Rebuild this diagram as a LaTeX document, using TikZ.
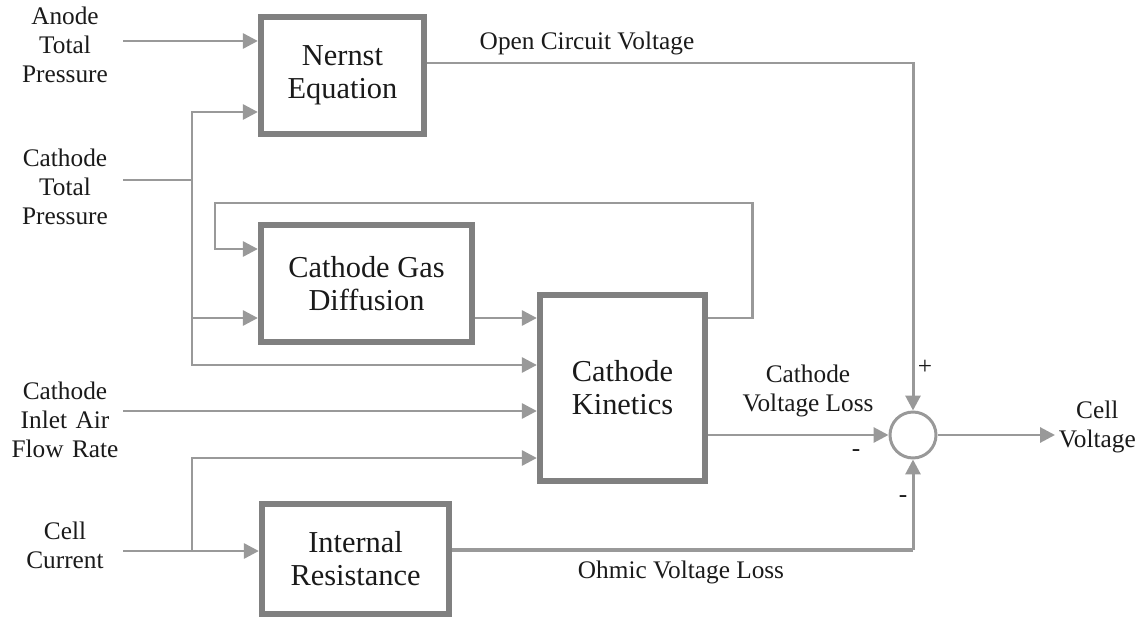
\documentclass[tikz,border=0pt]{standalone}
\usepackage{fontspec}
\setmainfont{Liberation Serif}
\usetikzlibrary{arrows.meta,calc,positioning}
\definecolor{BoxGray}{HTML}{808080}
\definecolor{WireGray}{HTML}{999999}
\definecolor{TextInk}{HTML}{1A1A1A}
\begin{document}
\begin{tikzpicture}[x=0.02cm,y=-0.02cm,every node/.style={text=TextInk},lbl/.style={font=\fontsize{14.4}{16.5}\selectfont,align=center,inner sep=0pt},inlbl/.style={lbl,text width=2.32cm},block/.style={draw=BoxGray,line width=3.6pt,fill=white,align=center,inner sep=0pt,font=\fontsize{17.3}{18.8}\selectfont},wire/.style={draw=WireGray,line width=1.7pt},flow/.style={wire,-{Triangle[length=8.5pt,width=8.5pt]}}]
\useasboundingbox (0,0) rectangle (1145,621);

\node[inlbl] (anode) at (65,45) {Anode\\Total\\Pressure};
\node[inlbl] (cathp) at (65,187) {Cathode\\Total\\Pressure};
\node[inlbl] (inlet) at (65,420) {Cathode\\Inlet Air\\Flow Rate};
\node[inlbl] (cur) at (65,545) {Cell\\Current};
\node[block,minimum width=3.26cm,minimum height=2.34cm] (nernst) at (342.5,75.5) {Nernst\\Equation};
\node[block,minimum width=4.22cm,minimum height=2.34cm] (diff) at (366.5,283.5) {Cathode Gas\\Diffusion};
\node[block,minimum width=3.3cm,minimum height=3.72cm] (kin) at (622.5,388) {Cathode\\Kinetics};
\node[block,minimum width=3.74cm,minimum height=2.2cm] (res) at (355.5,559) {Internal\\Resistance};
\node[circle,draw=WireGray,line width=1.7pt,minimum size=0.92cm,inner sep=0pt] (sum) at (913,435) {};
\node[lbl,anchor=west,inner sep=2pt] (volt) at (1055,427) {Cell\\Voltage};

\coordinate (split1) at (192,180); \coordinate (split2) at (192,551);
\coordinate (fbR) at (752,203); \coordinate (fbL) at (215,203);

\draw[flow] (anode.east |- 0,41) -- (nernst.west |- 0,41);
\draw[wire] (cathp.east |- split1) -- (split1);
\draw[flow] (split1) |- (nernst.west |- 0,112); \draw[flow] (split1) |- (diff.west |- 0,318); \draw[flow] (split1) |- (kin.west |- 0,365);
\draw[flow] (kin.east |- 0,318) -| (fbR) -- (fbL) |- (diff.west |- 0,249);
\draw[flow] (diff.east |- 0,318) -- (kin.west |- 0,318);
\draw[flow] (inlet.east |- 0,411) -- (kin.west |- 0,411);
\draw[flow] (cur.east |- split2) -- (res.west |- split2); \draw[flow] (split2) |- (kin.west |- 0,458);
\draw[flow] (nernst.east |- 0,63) -| (sum.north);
\draw[flow] (kin.east |- sum) -- (sum.west);
\draw[wire,line width=2.6pt] (res.east |- 0,550) -- (sum.south |- 0,550); \draw[flow] (sum.south |- 0,550) -- (sum.south);
\draw[flow] (sum.east) -- (sum.east -| volt.west);

\node[lbl] (ocv) at (587,43) {Open Circuit Voltage};
\node[lbl] (cvl) at (808,391) {Cathode\\Voltage Loss};
\node[lbl] (ovl) at (681,572) {Ohmic Voltage Loss};
\node[lbl] (plus) at (925,367) {+}; \node[lbl] (minA) at (856,453) {-}; \node[lbl] (minB) at (903,499) {-};

\end{tikzpicture}
\end{document}
